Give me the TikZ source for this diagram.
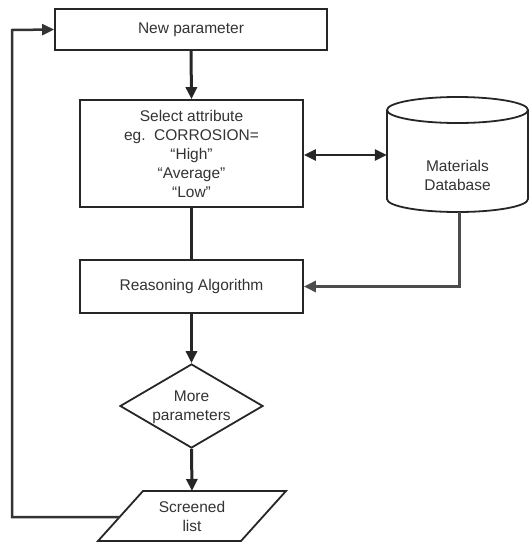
\documentclass[tikz,border=0pt]{standalone}
\usepackage{fontspec}
\setmainfont{Liberation Sans}
\usetikzlibrary{shapes.geometric,arrows.meta}
\definecolor{txt}{HTML}{333333}
\tikzset{
  box/.style={draw=black!85, line width=1.8pt, fill=white, text=txt, align=center, inner sep=0pt, font=\fontsize{15.5}{19}\selectfont},
  lbl/.style={text=txt, align=center, inner sep=0pt, font=\fontsize{15.5}{19}\selectfont},
  conn/.style={line width=3pt, draw=black!85, -{Triangle[length=12pt,width=11pt]}},
  plain/.style={line width=3pt, draw=black!85},
  loopline/.style={line width=2.5pt, draw=black!80, -{Triangle[length=12pt,width=11pt]}}
}
\begin{document}
\begin{tikzpicture}[x=1pt,y=-1pt]
\useasboundingbox (0,0) rectangle (530,542);
% boxes
\node[box, minimum width=272pt, minimum height=41pt] (newp) at (191,29.5) {New parameter};
\node[box, minimum width=223pt, minimum height=107pt] (sel) at (191.5,153.5) {Select attribute\\eg.\ \ CORROSION=\\``High''\\``Average''\\``Low''};
\node[box, minimum width=223pt, minimum height=53pt] (reas) at (191.5,286.5) {Reasoning Algorithm};
% cylinder
\draw[line width=1.8pt, draw=black!85, fill=white] (387,110) -- (387,199) arc[start angle=180, end angle=0, x radius=70.5, y radius=13] -- (528,110);
\draw[line width=1.8pt, draw=black!85] (457.5,110) ellipse[x radius=70.5, y radius=13];
\node[minimum width=141pt, minimum height=115pt, inner sep=0pt] (db) at (457.5,154.5) {};
\node[lbl] (dbtxt) at (457.5,175) {Materials\\Database};
% diamond
\node[diamond, draw=black!85, line width=1.8pt, minimum width=143pt, minimum height=84pt, inner sep=0pt, aspect=1.7] (more) at (191.5,406) {};
\node[lbl] (moretxt) at (191.5,407) {More\\parameters};
% parallelogram
\draw[line width=1.8pt, draw=black!85, fill=white] (98,541) -- (143,491) -- (286,491) -- (241,541) -- cycle;
\node[lbl] (scr) at (192,516) {Screened\\list};
\coordinate (scrtop) at (192,491);
\coordinate (scrleft) at (119.6,517);
\coordinate (loopA) at (12,517);
\coordinate (loopB) at (12,30);
\coordinate (dbbot) at (459,212);
\coordinate (dbturn) at (459,286.5);
% connectors
\draw[conn] (newp.south) -- (sel.north);
\draw[plain] (sel.south) -- (reas.north);
\draw[line width=2.5pt, draw=black!85, {Triangle[length=12pt,width=11pt]}-{Triangle[length=12pt,width=11pt]}] (sel.east |- 0,155) -- (db.west |- 0,155);
\draw[line width=3pt, draw=black!70, -{Triangle[length=12pt,width=11pt]}] (dbbot) -- (dbturn) -- (reas.east);
\draw[conn] (reas.south) -- (more.north);
\draw[conn] (more.south) -- (scrtop);
\draw[loopline] (scrleft) -- (loopA) -- (loopB) -- (newp.west);
\end{tikzpicture}
\end{document}
